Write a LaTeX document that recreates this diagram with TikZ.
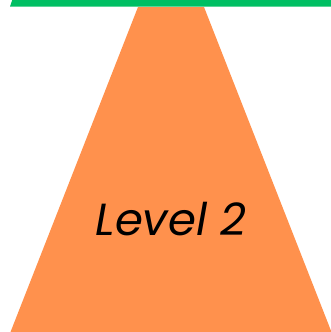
\documentclass[tikz,border=0pt]{standalone}
\usepackage{fontspec}
\setmainfont{Poppins}
\definecolor{lvgreen}{RGB}{0,191,99}
\definecolor{lvorange}{RGB}{255,145,77}
\begin{document}
\begin{tikzpicture}[x=1pt,y=-1pt,
  lvtext/.style={font=\fontsize{45}{50}\selectfont\itshape, text=black, inner sep=0pt, anchor=base}]
\useasboundingbox (0,0) rectangle (331,332);
\fill[lvgreen] (12.6,-1) -- (335,-1) -- (335,6.5) -- (10,6.5) -- cycle;
\fill[lvorange] (138,7) -- (204,7) -- (331.5,332) -- (10.5,332) -- cycle;
\node[lvtext] (label) at (171,235) {Level 2};
\end{tikzpicture}
\end{document}
